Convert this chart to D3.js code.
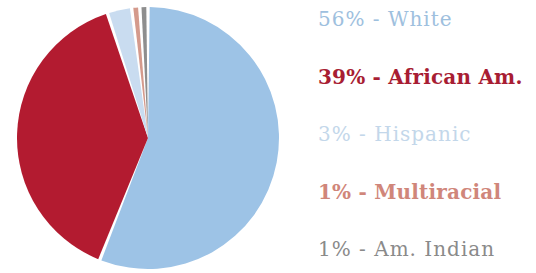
<!DOCTYPE html>
<html lang="en">
<head>
    <meta charset="UTF-8">
    <script src="https://d3js.org/d3.v7.min.js"></script>
    <title>Pie</title>
    <style>
        body { margin: 0; background: #fff; }
        .legend-label { font-family: "DejaVu Serif", serif; }
    </style>
</head>
<body>
    <div id="chart"></div>
    <script type="text/javascript">
        const categories = ["White", "African Am.", "Hispanic", "Multiracial", "Am. Indian"];
        const values = [56, 39, 3, 1, 1];
        const colors = ["#9dc3e6", "#b31b30", "#c9dcf0", "#d49a8c", "#8e8e8e"];
        const labelColors = ["#9ec0de", "#a81d33", "#c3d7ea", "#d0867a", "#8a8a8a"];
        const labelWeights = ["normal", "bold", "normal", "bold", "normal"];

        const width = 536;
        const height = 273;
        const radius = 131;
        const cx = 148;
        const cy = 138;

        const svg = d3.select("#chart")
            .append("svg")
            .attr("width", width)
            .attr("height", height);

        const data = categories.map((c, i) => ({ name: c, value: values[i], i: i }));

        const pie = d3.pie()
            .value(d => d.value)
            .sort(null);

        const arc = d3.arc()
            .innerRadius(0)
            .outerRadius(radius)
            .padAngle(0.026);

        const g = svg.append("g")
            .attr("transform", `translate(${cx}, ${cy})`);

        g.selectAll("path")
            .data(pie(data))
            .enter()
            .append("path")
            .attr("d", arc)
            .attr("fill", d => colors[d.data.i]);

        const y = d3.scalePoint()
            .domain(categories)
            .range([26, 256]);

        svg.selectAll("text.legend-label")
            .data(data)
            .enter()
            .append("text")
            .attr("class", "legend-label")
            .attr("x", 318)
            .attr("y", d => y(d.name))
            .style("font-size", "20px")
            .style("font-weight", d => labelWeights[d.i])
            .style("letter-spacing", d => labelWeights[d.i] === "bold" ? "0.2px" : "1px")
            .style("fill", d => labelColors[d.i])
            .text(d => `${d.value}% - ${d.name}`);
    </script>
</body>
</html>
